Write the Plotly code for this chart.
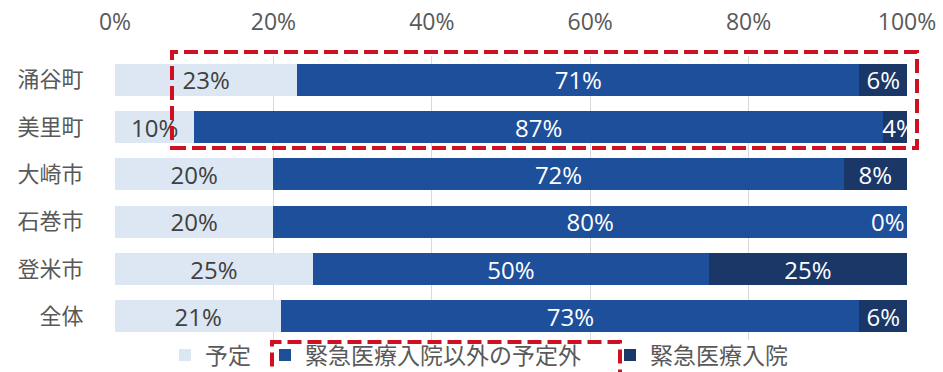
import plotly.graph_objects as go

categories = ["涌谷町", "美里町", "大崎市", "石巻市", "登米市", "全体"]
planned = [23, 10, 20, 20, 25, 21]
unplanned_other = [71, 87, 72, 80, 50, 73]
emergency = [6, 4, 8, 0, 25, 6]
series_names = ["予定", "緊急医療入院以外の予定外", "緊急医療入院"]
tick_vals = [0, 20, 40, 60, 80, 100]
tick_text = ["0%", "20%", "40%", "60%", "80%", "100%"]

FONT = "Noto Sans CJK JP, Open Sans, sans-serif"
NUMFONT = "Open Sans, Noto Sans CJK JP, sans-serif"
colors = ["#dce7f3", "#1e4f9b", "#1b3767"]
text_colors = ["#404040", "#ffffff", "#ffffff"]
legend_ids = ["legend", "legend2", "legend3"]
legend_text_px = [205, 305, 650]

PL, PW, PT, PH = 115, 792, 56, 284

fig = go.Figure()
for name, vals, c, tc, lg in zip(series_names, [planned, unplanned_other, emergency], colors, text_colors, legend_ids):
    fig.add_trace(go.Bar(
        y=categories, x=vals, name=name, orientation="h",
        marker=dict(color=c, line=dict(width=0)),
        text=[f"{v}%" if v > 0 else "" for v in vals],
        textposition="inside", insidetextanchor="middle", textangle=0,
        textfont=dict(family=NUMFONT, size=24, color=tc),
        constraintext="none", legend=lg,
    ))

# zero-value label for 石巻市
for cat, v in zip(categories, emergency):
    if v == 0:
        fig.add_annotation(x=100, y=cat, xref="x", yref="y", text="0%", showarrow=False,
                           xanchor="right", font=dict(family=NUMFONT, size=24, color="#ffffff"))

legend_style = dict(orientation="h", xanchor="left", y=-0.053, yanchor="middle",
                    font=dict(family=FONT, size=23, color="#595959"),
                    itemwidth=30, itemclick=False, bgcolor="rgba(0,0,0,0)")
legends = {}
for lg, tx in zip(legend_ids, legend_text_px):
    legends[lg] = dict(legend_style, x=(tx - 40 - PL) / PW)

fig.update_layout(
    barmode="stack", bargap=0.32,
    width=943, height=372,
    margin=dict(l=PL, r=943 - PL - PW, t=PT, b=372 - PT - PH, autoexpand=False),
    paper_bgcolor="white", plot_bgcolor="white",
    font=dict(family=FONT, color="#595959"),
    showlegend=True,
    xaxis=dict(side="top", range=[0, 100], tickvals=tick_vals, ticktext=tick_text,
               showgrid=True, gridcolor="#d9d9d9", gridwidth=1, zeroline=False,
               tickfont=dict(family=NUMFONT, size=23, color="#595959"),
               ticks="outside", ticklen=16, tickcolor="rgba(0,0,0,0)", fixedrange=True),
    yaxis=dict(autorange="reversed", showgrid=False,
               tickfont=dict(family=FONT, size=22, color="#595959"),
               ticks="outside", ticklen=26, tickcolor="rgba(0,0,0,0)"),
    **legends,
)

# red dashed highlight boxes
fig.add_shape(type="rect", xref="paper", yref="paper", x0=(172 - PL) / PW, x1=(917 - PL) / PW,
              y0=(PT + PH - 148) / PH, y1=(PT + PH - 52) / PH,
              line=dict(color="#d01020", width=4, dash="14px,6px"), fillcolor="rgba(0,0,0,0)", layer="above")
fig.add_shape(type="rect", xref="paper", yref="paper", x0=(272 - PL) / PW, x1=(620 - PL) / PW,
              y0=-0.125, y1=(PT + PH - 342) / PH,
              line=dict(color="#d01020", width=4, dash="14px,6px"), fillcolor="rgba(0,0,0,0)", layer="above")

fig.write_html("out.html")
